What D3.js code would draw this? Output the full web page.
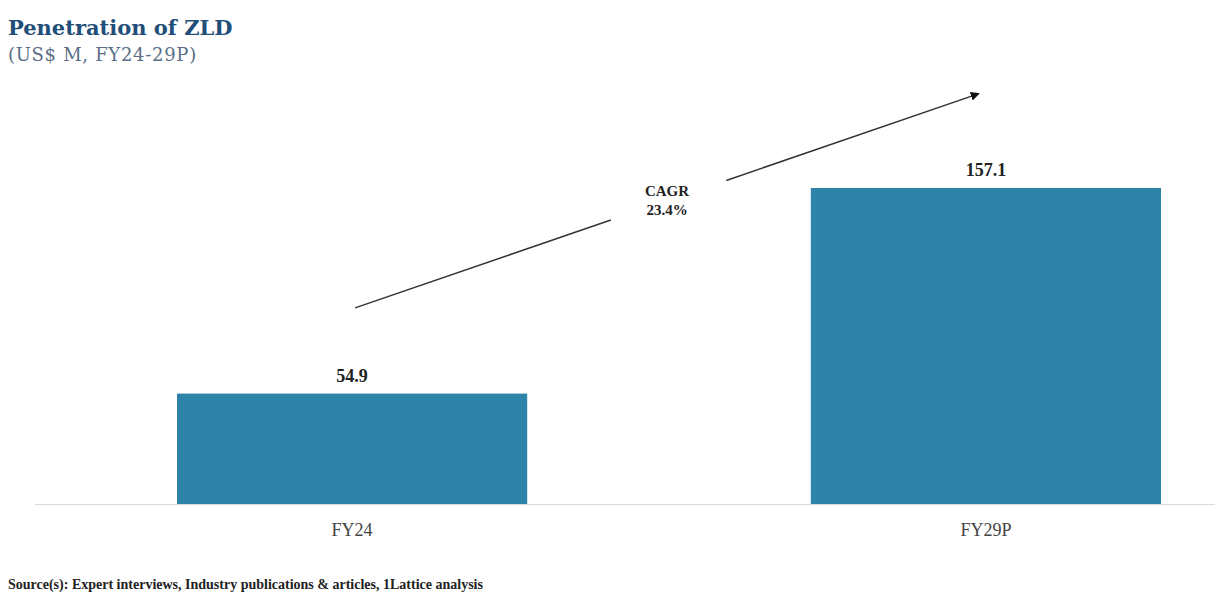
<!DOCTYPE html>
<html><head><meta charset="utf-8">
<script src="https://cdn.jsdelivr.net/npm/d3@7"></script>
<style>body{margin:0;background:#fff;} svg{display:block;}</style>
</head><body>
<svg id="c" width="1219" height="600"></svg>
<script>
const categories = ["FY24", "FY29P"];
const values = [54.9, 157.1];
const valueLabels = ["54.9", "157.1"];
const cagrLabel = ["CAGR", "23.4%"];
const title = "Penetration of ZLD";
const subtitle = "(US$ M, FY24-29P)";
const source = "Source(s): Expert interviews, Industry publications & articles, 1Lattice analysis";

const svg = d3.select("#c");
const serif = "'Liberation Serif','Times New Roman',serif";
const wide = "'DejaVu Serif',serif";
const baseY = 504;

const x = d3.scaleBand().domain(categories).range([177, 1161]).paddingInner(0.4475).paddingOuter(0);
const y = d3.scaleLinear().domain([0, 157.1]).range([baseY, 188]);

// title
svg.append("text").attr("x", 8).attr("y", 35).attr("font-family", wide).attr("font-weight", "bold")
  .attr("font-size", 21).attr("fill", "#1f4e79").text(title);
svg.append("text").attr("x", 8).attr("y", 61).attr("font-family", wide)
  .attr("font-size", 18).attr("fill", "#5a6f86").attr("letter-spacing", 0.7).text(subtitle);

// bars
svg.selectAll("rect.bar").data(values).join("rect").attr("class", "bar")
  .attr("x", (d, i) => x(categories[i])).attr("width", x.bandwidth())
  .attr("y", d => y(d)).attr("height", d => baseY - y(d)).attr("fill", "#2e83a8");

// axis line
svg.append("line").attr("x1", 35).attr("x2", 1215).attr("y1", baseY + 0.5).attr("y2", baseY + 0.5)
  .attr("stroke", "#d9d9d9").attr("stroke-width", 1);

// x axis labels
const xa = svg.append("g").attr("transform", `translate(0,${baseY})`)
  .call(d3.axisBottom(x).tickSize(0).tickPadding(19));
xa.select(".domain").remove();
xa.selectAll("text").attr("font-family", serif).attr("font-size", 18).attr("fill", "#444");

// value labels
svg.selectAll("text.val").data(values).join("text").attr("class", "val")
  .attr("x", (d, i) => x(categories[i]) + x.bandwidth() / 2).attr("y", d => y(d) - 12)
  .attr("text-anchor", "middle").attr("font-family", serif).attr("font-weight", "bold")
  .attr("font-size", 18).attr("fill", "#222").text((d, i) => valueLabels[i]);

// CAGR arrow
svg.append("defs").append("marker").attr("id", "ah").attr("viewBox", "0 0 10 10")
  .attr("refX", 9).attr("refY", 5).attr("markerWidth", 6).attr("markerHeight", 6)
  .attr("orient", "auto").append("path").attr("d", "M0,0 L10,5 L0,10 z").attr("fill", "#111");
const x0 = x("FY24") + x.bandwidth() / 2 + 3, y0 = y(97.5);
const x1 = x("FY29P") + x.bandwidth() / 2 - 7, y1 = y(204);
const lerp = t => [x0 + (x1 - x0) * t, y0 + (y1 - y0) * t];
const a = lerp(0.41), b = lerp(0.595);
svg.append("line").attr("x1", x0).attr("y1", y0).attr("x2", a[0]).attr("y2", a[1])
  .attr("stroke", "#333").attr("stroke-width", 1.5);
svg.append("line").attr("x1", b[0]).attr("y1", b[1]).attr("x2", x1).attr("y2", y1)
  .attr("stroke", "#333").attr("stroke-width", 1.5).attr("marker-end", "url(#ah)");
svg.selectAll("text.cagr").data(cagrLabel).join("text").attr("class", "cagr")
  .attr("x", 667).attr("y", (d, i) => 196 + i * 19).attr("text-anchor", "middle")
  .attr("font-family", serif).attr("font-weight", "bold").attr("font-size", 15).attr("fill", "#222").text(d => d);

// source
svg.append("text").attr("x", 8).attr("y", 589).attr("font-family", serif).attr("font-weight", "bold")
  .attr("font-size", 14).attr("fill", "#222").text(source);
</script>
</body></html>
